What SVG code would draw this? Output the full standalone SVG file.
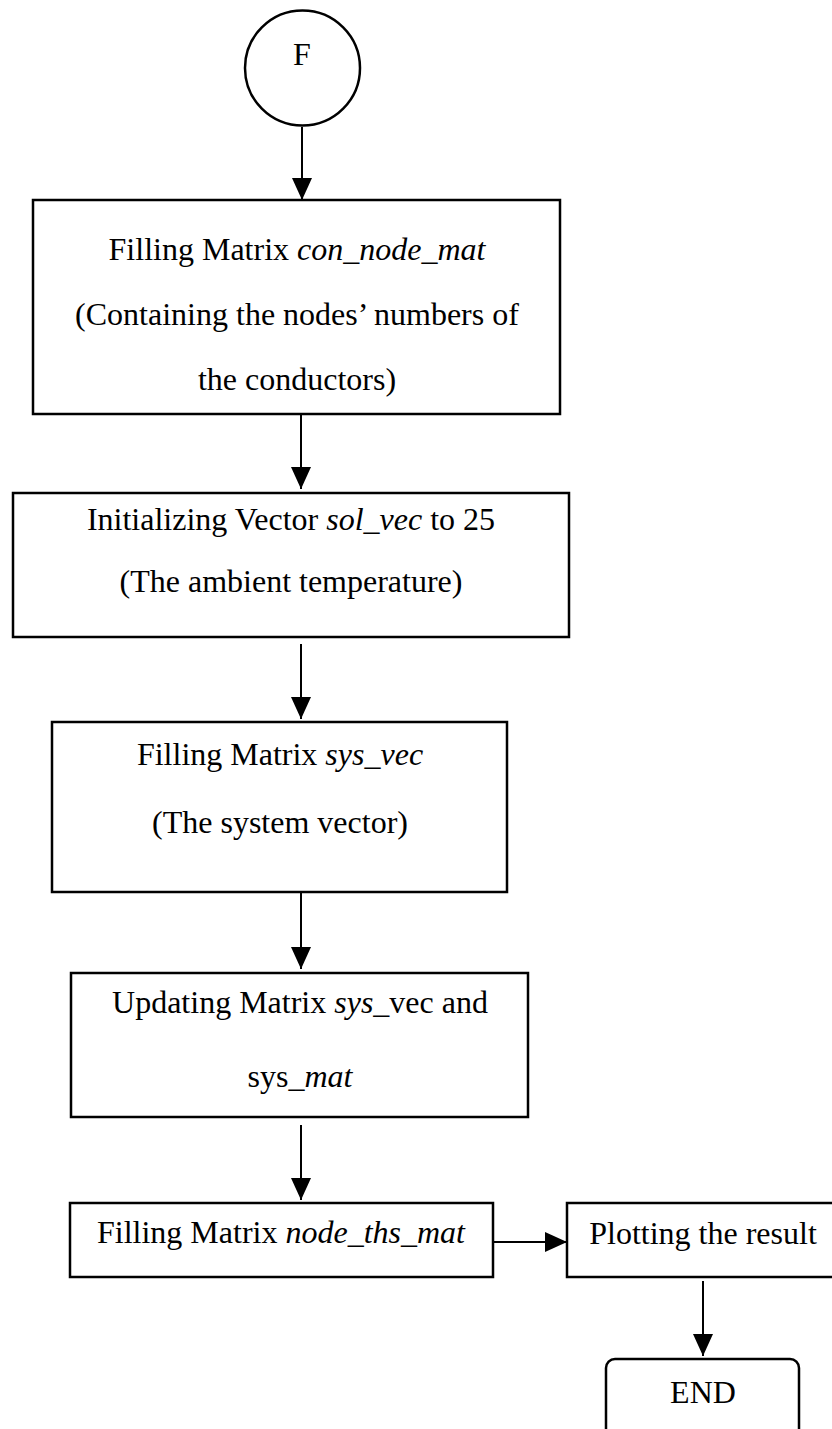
<svg xmlns="http://www.w3.org/2000/svg" width="832" height="1429" viewBox="0 0 832 1429">
<style>
.box{fill:#fff;stroke:#000;stroke-width:2.5}
.t{font-family:"Liberation Serif","Times New Roman",serif;font-size:32px;fill:#000;text-anchor:middle}
.i{font-style:italic}
.c{stroke:#000;stroke-width:2;fill:none}
</style>
<defs>
<marker id="ah" viewBox="0 0 22 20" refX="22" refY="10" markerWidth="22" markerHeight="20" markerUnits="userSpaceOnUse" orient="auto">
<path d="M0,0 L22,10 L0,20 Z" fill="#000"/>
</marker>
</defs>
<rect width="832" height="1429" fill="#fff"/>
<g id="connectors">
<line class="c" x1="302" y1="127" x2="302" y2="200" marker-end="url(#ah)"/>
<line class="c" x1="301" y1="414" x2="301" y2="489" marker-end="url(#ah)"/>
<line class="c" x1="301" y1="644" x2="301" y2="719" marker-end="url(#ah)"/>
<line class="c" x1="301" y1="893" x2="301" y2="969" marker-end="url(#ah)"/>
<line class="c" x1="301" y1="1125" x2="301" y2="1200" marker-end="url(#ah)"/>
<line class="c" x1="493" y1="1242" x2="567" y2="1242" marker-end="url(#ah)"/>
<line class="c" x1="703" y1="1281" x2="703" y2="1356" marker-end="url(#ah)"/>
</g>
<g id="nF">
<circle cx="302.5" cy="68" r="57.5" fill="#fff" stroke="#000" stroke-width="2.5"/>
<text class="t" x="302" y="65">F</text>
</g>
<g id="n1">
<rect class="box" x="33" y="200" width="527" height="214"/>
<text class="t" x="297" y="260">Filling Matrix <tspan class="i">con_node_mat</tspan></text>
<text class="t" x="297" y="325">(Containing the nodes’ numbers of</text>
<text class="t" x="297" y="390">the conductors)</text>
</g>
<g id="n2">
<rect class="box" x="13" y="493" width="556" height="144"/>
<text class="t" x="291" y="530">Initializing Vector <tspan class="i">sol_vec</tspan> to 25</text>
<text class="t" x="291" y="592">(The ambient temperature)</text>
</g>
<g id="n3">
<rect class="box" x="52" y="722" width="455" height="170"/>
<text class="t" x="280" y="765">Filling Matrix <tspan class="i">sys_vec</tspan></text>
<text class="t" x="280" y="833">(The system vector)</text>
</g>
<g id="n4">
<rect class="box" x="71" y="973" width="457" height="144"/>
<text class="t" x="300" y="1013">Updating Matrix <tspan class="i">sys</tspan>_vec and</text>
<text class="t" x="300" y="1087">sys<tspan class="i">_mat</tspan></text>
</g>
<g id="n5">
<rect class="box" x="70" y="1203" width="423" height="74"/>
<text class="t" x="281" y="1243">Filling Matrix <tspan class="i">node_ths_mat</tspan></text>
</g>
<g id="n6">
<rect class="box" x="567" y="1203" width="280" height="74"/>
<text class="t" x="703" y="1244">Plotting the result</text>
</g>
<g id="n7">
<rect class="box" x="606" y="1359" width="193" height="90" rx="9"/>
<text class="t" x="703" y="1403">END</text>
</g>
</svg>
